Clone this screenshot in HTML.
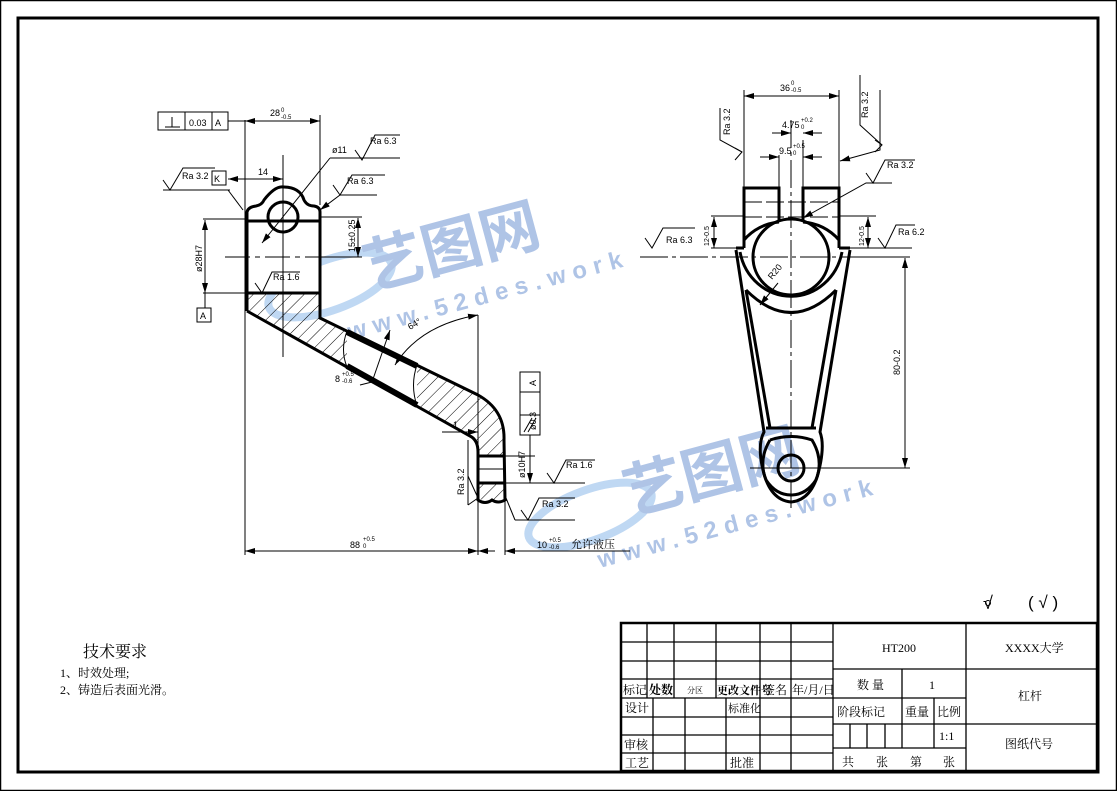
<!DOCTYPE html>
<html><head><meta charset="utf-8"><style>
html,body{margin:0;padding:0;background:#fff}
svg{display:block}
text{font-family:"Liberation Sans","Noto Sans CJK SC",sans-serif;fill:#000}
.s{font-family:"Liberation Serif","Noto Serif CJK SC","Noto Sans CJK SC",serif}
</style></head><body>
<svg width="1117" height="791" viewBox="0 0 1117 791" xmlns="http://www.w3.org/2000/svg">
<defs>
<pattern id="h" patternUnits="userSpaceOnUse" width="9" height="9" patternTransform="rotate(45)">
<line x1="0" y1="0" x2="0" y2="9" stroke="#000" stroke-width="1"/></pattern>
<marker id="a" viewBox="0 0 10 6" refX="10" refY="3" markerWidth="10" markerHeight="6" orient="auto-start-reverse" markerUnits="userSpaceOnUse"><path d="M0,0L10,3L0,6z" fill="#000"/></marker>
</defs>
<rect x="0.5" y="0.5" width="1116" height="790" fill="none" stroke="#000" stroke-width="1.5"/>
<rect x="18" y="18" width="1080" height="754" fill="none" stroke="#000" stroke-width="3"/>

<!-- watermarks -->
<g opacity="0.5">
<ellipse cx="330" cy="285" rx="65" ry="25" transform="rotate(-20 330 285)" fill="none" stroke="#7fb0e6" stroke-width="8"/>
<text x="370" y="290" font-size="60" transform="rotate(-15 370 290)" style="fill:#5f88cc;font-weight:bold">艺图网</text>
<text x="350" y="340" font-size="24" transform="rotate(-15 350 340)" style="fill:#5f88cc;font-weight:bold;letter-spacing:7px">www.52des.work</text>
<ellipse cx="590" cy="515" rx="65" ry="25" transform="rotate(-20 590 515)" fill="none" stroke="#7fb0e6" stroke-width="8"/>
<text x="630" y="515" font-size="60" transform="rotate(-15 630 515)" style="fill:#5f88cc;font-weight:bold">艺图网</text>
<text x="600" y="568" font-size="24" transform="rotate(-15 600 568)" style="fill:#5f88cc;font-weight:bold;letter-spacing:7px">www.52des.work</text>
</g>

<!-- LEFT VIEW -->
<g fill="none" stroke="#000">
<path d="M247,293 L320,293 L320,318 L478,395 Q505,410 504,440 L504,500 Q495,505 490,498 L478,500 L478,452 Q478,440 470,436 L247,311 Z" fill="url(#h)" stroke="none"/>
<path d="M247,221 L320,221 L320,293 L247,293Z M478,456 L505,456 L505,483 L478,483Z" fill="#fff" stroke="none"/>
<path d="M347,331 L417,365 L417,406 L347,367Z" fill="#fff" stroke="none"/>
<path d="M247,311 L247,212 Q248,207 256,206 Q262,205 264,200 Q275,186 283,187 Q300,187 304,200 Q307,206 314,206 Q320,207 320,212 L320,318 L478,395 Q505,410 504,440 L505,500 Q498,504 492,500 Q485,505 478,500 L478,452 Q478,440 470,436 L247,311" stroke-width="3"/>
<line x1="347" y1="332" x2="417" y2="366" stroke-width="6"/>
<line x1="347" y1="366" x2="417" y2="405" stroke-width="6"/>
<path d="M347,331 Q340,350 347,367 M417,365 Q410,385 417,406" stroke-width="1"/>
<circle cx="283" cy="217" r="15" stroke-width="3"/>
<line x1="247" y1="221" x2="320" y2="221" stroke-width="3"/>
<line x1="247" y1="293" x2="320" y2="293" stroke-width="3"/>
<line x1="478" y1="456" x2="505" y2="456" stroke-width="3"/>
<line x1="478" y1="483" x2="505" y2="483" stroke-width="3"/>
<line x1="478" y1="469" x2="505" y2="469" stroke-width="1"/>
<line x1="283" y1="155" x2="283" y2="357" stroke-width="1"/>
<line x1="225" y1="257" x2="355" y2="257" stroke-width="1" stroke-dasharray="25,5,5,5"/>
<line x1="245" y1="120" x2="245" y2="555" stroke-width="1"/>
<line x1="320" y1="115" x2="320" y2="205" stroke-width="1"/>
<line x1="245" y1="121" x2="320" y2="121" stroke-width="1" marker-start="url(#a)" marker-end="url(#a)"/>
<line x1="228" y1="121" x2="245" y2="121" stroke-width="1"/>
<line x1="228" y1="179" x2="283" y2="179" stroke-width="1" marker-start="url(#a)" marker-end="url(#a)"/>
<line x1="203" y1="219" x2="245" y2="219" stroke-width="1"/>
<line x1="203" y1="293" x2="245" y2="293" stroke-width="1"/>
<line x1="205" y1="220" x2="205" y2="293" stroke-width="1" marker-start="url(#a)" marker-end="url(#a)"/>
<line x1="205" y1="293" x2="205" y2="308" stroke-width="1"/>
<line x1="320" y1="217" x2="362" y2="217" stroke-width="1"/>
<line x1="320" y1="257" x2="362" y2="257" stroke-width="1"/>
<line x1="358" y1="218" x2="358" y2="257" stroke-width="1" marker-start="url(#a)" marker-end="url(#a)"/>
<line x1="262" y1="243" x2="330" y2="158" stroke-width="1" marker-start="url(#a)"/>
<line x1="330" y1="158" x2="400" y2="158" stroke-width="1"/>
<line x1="228" y1="190" x2="243" y2="210" stroke-width="1"/>
<line x1="163" y1="190" x2="230" y2="190" stroke-width="1"/>
<line x1="320" y1="210" x2="340" y2="195" stroke-width="1" marker-start="url(#a)"/>
<line x1="340" y1="195" x2="377" y2="195" stroke-width="1"/>
<line x1="478" y1="315" x2="478" y2="555" stroke-width="1"/>
<line x1="505" y1="490" x2="505" y2="555" stroke-width="1"/>
<line x1="245" y1="551" x2="478" y2="551" stroke-width="1" marker-start="url(#a)" marker-end="url(#a)"/>
<line x1="478" y1="551" x2="495" y2="551" stroke-width="1" marker-start="url(#a)"/>
<line x1="505" y1="551" x2="630" y2="551" stroke-width="1" marker-start="url(#a)"/>
<path d="M395,365 Q420,325 478,315" stroke-width="1" marker-start="url(#a)" marker-end="url(#a)"/>
<line x1="372" y1="382" x2="390" y2="330" stroke-width="1" marker-end="url(#a)"/>
<line x1="360" y1="385" x2="372" y2="382" stroke-width="1"/>
<line x1="442" y1="432" x2="478" y2="432" stroke-width="1" marker-end="url(#a)"/>
<line x1="505" y1="456" x2="535" y2="456" stroke-width="1"/>
<line x1="505" y1="483" x2="585" y2="483" stroke-width="1"/>
<line x1="530" y1="435" x2="530" y2="483" stroke-width="1" marker-end="url(#a)"/>
<line x1="506" y1="498" x2="515" y2="520" stroke-width="1"/>
<line x1="515" y1="520" x2="575" y2="520" stroke-width="1"/>
<line x1="468" y1="440" x2="468" y2="505" stroke-width="1"/>
<path d="M163,180 L170,190 L183,168 L215,168" stroke-width="1"/>
<path d="M355,150 L362,160 L375,135 L400,135" stroke-width="1"/>
<path d="M333,185 L340,195 L352,175 L385,175" stroke-width="1"/>
<path d="M255,283 L262,293 L272,272 L300,272" stroke-width="1"/>
<path d="M547,473 L554,483 L566,460 L595,460" stroke-width="1"/>
<path d="M521,510 L528,520 L539,498 L575,498" stroke-width="1"/>
<path d="M468,505 L478,498 L468,476" stroke-width="1"/>
<rect x="158" y="112" width="70" height="18" stroke-width="1"/>
<line x1="185" y1="112" x2="185" y2="130" stroke-width="1"/><line x1="212" y1="112" x2="212" y2="130" stroke-width="1"/>
<path d="M165,127 L180,127 M172,117 L172,127" stroke-width="1"/>
<rect x="212" y="171" width="14" height="14" stroke-width="1"/>
<rect x="197" y="308" width="14" height="14" stroke-width="1"/>
<rect x="520" y="372" width="20" height="63" stroke-width="1"/>
<line x1="520" y1="392" x2="540" y2="392" stroke-width="1"/><line x1="520" y1="415" x2="540" y2="415" stroke-width="1"/>
<path d="M524,432 L532,418 M528,432 L536,418" stroke-width="1"/>
</g>
<g font-size="9">
<text x="189" y="126">0.03</text><text x="215" y="126">A</text>
<text x="270" y="116">28</text><text x="281" y="112" font-size="6">0</text><text x="281" y="119" font-size="6">-0.5</text>
<text x="258" y="175">14</text>
<text x="214" y="182">K</text>
<text x="200" y="319">A</text>
<text x="182" y="179">Ra 3.2</text>
<text x="370" y="144">Ra 6.3</text>
<text x="347" y="184">Ra 6.3</text>
<text x="332" y="153">ø11</text>
<text x="273" y="280">Ra 1.6</text>
<text x="202" y="272" transform="rotate(-90 202 272)">ø28H7</text>
<text x="355" y="252" transform="rotate(-90 355 252)">15±0.25</text>
<text x="410" y="330" transform="rotate(-30 410 330)">64°</text>
<text x="335" y="382">8</text><text x="342" y="376" font-size="6">+0.5</text><text x="342" y="383" font-size="6">-0.6</text>
<text x="453" y="428">1</text>
<text x="536" y="430" transform="rotate(-90 536 430)">ø0.3</text>
<text x="536" y="386" transform="rotate(-90 536 386)">A</text>
<text x="525" y="478" transform="rotate(-90 525 478)">ø10H7</text>
<text x="566" y="468">Ra 1.6</text>
<text x="542" y="507">Ra 3.2</text>
<text x="464" y="495" transform="rotate(-90 464 495)">Ra 3.2</text>
<text x="350" y="548">88</text><text x="363" y="541" font-size="6">+0.5</text><text x="363" y="548" font-size="6">0</text>
<text x="537" y="548">10</text><text x="549" y="542" font-size="6">+0.5</text><text x="549" y="549" font-size="6">-0.6</text>
<text x="571" y="548" class="s" font-size="11">允许液压</text>
</g>

<!-- RIGHT VIEW -->
<g fill="none" stroke="#000">
<path d="M744,248 L744,188 L779,188 L779,222 M803,222 L803,188 L839,188 L839,248" stroke-width="3"/>
<path d="M779,222 A52,52 0 0 0 744,240 M803,222 A52,52 0 0 1 839,240" stroke-width="3"/>
<circle cx="791" cy="257" r="38" stroke-width="3"/>
<path d="M740,252 A52,55 0 0 0 842,252" stroke-width="3"/>
<path d="M746,290 Q791,335 836,290" stroke-width="3"/>
<path d="M736,248 L744,248 M839,248 L850,248" stroke-width="3"/>
<path d="M736,250 L764,432 Q757,445 763,470 Q770,500 791,502 Q812,500 819,470 Q825,445 820,432 L850,250" stroke-width="3"/>
<path d="M746,290 L770,428 M836,290 L812,428" stroke-width="3"/>
<line x1="766" y1="428" x2="816" y2="428" stroke-width="3"/>
<path d="M770,440 Q791,433 812,440 Q824,460 816,480 Q806,495 791,495 Q776,495 766,480 Q758,460 770,440" stroke-width="3"/>
<circle cx="791" cy="468" r="13" stroke-width="3"/>
<line x1="744" y1="202" x2="839" y2="202" stroke-width="1" stroke-dasharray="18,4"/>
<line x1="744" y1="217" x2="839" y2="217" stroke-width="1" stroke-dasharray="18,4"/>
<line x1="791" y1="120" x2="791" y2="510" stroke-width="1" stroke-dasharray="28,4,4,4"/>
<line x1="640" y1="257" x2="865" y2="257" stroke-width="1" stroke-dasharray="28,4,4,4"/>
<line x1="750" y1="468" x2="910" y2="468" stroke-width="1"/>
<line x1="744" y1="90" x2="744" y2="188" stroke-width="1"/>
<line x1="839" y1="90" x2="839" y2="188" stroke-width="1"/>
<line x1="744" y1="96" x2="839" y2="96" stroke-width="1" marker-start="url(#a)" marker-end="url(#a)"/>
<line x1="779" y1="155" x2="779" y2="188" stroke-width="1"/>
<line x1="803" y1="140" x2="803" y2="188" stroke-width="1"/>
<line x1="772" y1="133" x2="791" y2="133" stroke-width="1" marker-end="url(#a)"/>
<line x1="822" y1="133" x2="803" y2="133" stroke-width="1" marker-end="url(#a)"/>
<line x1="760" y1="157" x2="779" y2="157" stroke-width="1" marker-end="url(#a)"/>
<line x1="822" y1="157" x2="803" y2="157" stroke-width="1" marker-end="url(#a)"/>
<line x1="711" y1="216" x2="744" y2="216" stroke-width="1"/>
<line x1="711" y1="248" x2="744" y2="248" stroke-width="1"/>
<line x1="714" y1="217" x2="714" y2="248" stroke-width="1" marker-start="url(#a)" marker-end="url(#a)"/>
<line x1="839" y1="216" x2="876" y2="216" stroke-width="1"/>
<line x1="850" y1="248" x2="912" y2="248" stroke-width="1"/>
<line x1="868" y1="217" x2="868" y2="248" stroke-width="1" marker-start="url(#a)" marker-end="url(#a)"/>
<line x1="855" y1="257" x2="910" y2="257" stroke-width="1"/>
<line x1="905" y1="258" x2="905" y2="468" stroke-width="1" marker-start="url(#a)" marker-end="url(#a)"/>
<line x1="778" y1="283" x2="760" y2="305" stroke-width="1" marker-end="url(#a)"/>
<path d="M840,161 L880,150 L880,90" stroke-width="1" marker-start="url(#a)"/>
<path d="M860,75 L860,125 L882,145" stroke-width="1"/>
<path d="M720,108 L720,140 L742,152" stroke-width="1"/>
<path d="M803,218 L866,183 L892,183" stroke-width="1" marker-start="url(#a)"/>
<path d="M866,173 L873,183 L885,160 L915,160" stroke-width="1"/>
<path d="M645,238 L652,248 L663,228 L695,228" stroke-width="1"/>
<path d="M878,238 L885,248 L896,225 L915,225" stroke-width="1"/>
<path d="M735,148 L742,152 L735,160" stroke-width="1"/>
<path d="M875,140 L882,145 L875,152" stroke-width="1"/>
</g>
<g font-size="9">
<text x="780" y="91">36</text><text x="791" y="85" font-size="6">0</text><text x="791" y="92" font-size="6">-0.5</text>
<text x="782" y="128">4.75</text><text x="801" y="122" font-size="6">+0.2</text><text x="801" y="129" font-size="6">0</text>
<text x="779" y="154">9.5</text><text x="793" y="148" font-size="6">+0.5</text><text x="793" y="155" font-size="6">0</text>
<text x="730" y="135" transform="rotate(-90 730 135)">Ra 3.2</text>
<text x="868" y="118" transform="rotate(-90 868 118)">Ra 3.2</text>
<text x="887" y="168">Ra 3.2</text>
<text x="666" y="243">Ra 6.3</text>
<text x="898" y="235">Ra 6.2</text>
<text x="709" y="246" transform="rotate(-90 709 246)" font-size="7">12-0.5</text>
<text x="864" y="246" transform="rotate(-90 864 246)" font-size="7">12-0.5</text>
<text x="772" y="280" transform="rotate(-50 772 280)">R20</text>
<text x="900" y="375" transform="rotate(-90 900 375)">80-0.2</text>
</g>

<text x="983" y="609" font-size="18">√</text>
<circle cx="988" cy="603" r="2.5" fill="none" stroke="#000"/>
<text x="1028" y="608" font-size="17">( √ )</text>

<text class="s" x="83" y="657" font-size="16">技术要求</text>
<text class="s" x="60" y="677" font-size="12">1、时效处理;</text>
<text class="s" x="60" y="694" font-size="12">2、铸造后表面光滑。</text>

<g fill="none" stroke="#000" stroke-width="1.3">
<rect x="621" y="623" width="476" height="148" stroke-width="2.5"/>
<line x1="621" y1="642" x2="833" y2="642"/><line x1="621" y1="661" x2="833" y2="661"/>
<line x1="621" y1="679" x2="833" y2="679"/><line x1="621" y1="698" x2="833" y2="698"/>
<line x1="621" y1="717" x2="833" y2="717"/><line x1="621" y1="735" x2="833" y2="735"/>
<line x1="621" y1="753" x2="833" y2="753"/>
<line x1="647" y1="623" x2="647" y2="698"/><line x1="674" y1="623" x2="674" y2="698"/>
<line x1="716" y1="623" x2="716" y2="698"/><line x1="760" y1="623" x2="760" y2="771"/>
<line x1="791" y1="623" x2="791" y2="771"/><line x1="833" y1="623" x2="833" y2="771"/>
<line x1="653" y1="698" x2="653" y2="771"/><line x1="685" y1="698" x2="685" y2="771"/>
<line x1="726" y1="698" x2="726" y2="771"/>
<line x1="966" y1="623" x2="966" y2="771"/>
<line x1="833" y1="669" x2="1097" y2="669"/>
<line x1="833" y1="698" x2="966" y2="698"/>
<line x1="833" y1="724" x2="1097" y2="724"/>
<line x1="833" y1="748" x2="966" y2="748"/>
<line x1="902" y1="669" x2="902" y2="748"/><line x1="934" y1="698" x2="934" y2="748"/>
<line x1="850" y1="724" x2="850" y2="748"/><line x1="867" y1="724" x2="867" y2="748"/>
<line x1="885" y1="724" x2="885" y2="748"/>
</g>
<g class="s" font-size="12">
<text class="s" x="623" y="694">标记</text>
<text class="s" x="649" y="694" style="font-weight:bold">处数</text>
<text class="s" x="687" y="693" font-size="8">分区</text>
<text class="s" x="717" y="694" font-size="11" style="font-weight:bold">更改文件号</text>
<text class="s" x="763" y="694">签名</text>
<text class="s" x="792" y="694">年/月/日</text>
<text class="s" x="625" y="712">设计</text>
<text class="s" x="728" y="712" font-size="11">标准化</text>
<text class="s" x="624" y="749">审核</text>
<text class="s" x="625" y="767">工艺</text>
<text class="s" x="730" y="767">批准</text>
<text class="s" x="882" y="652">HT200</text>
<text class="s" x="1005" y="652">XXXX大学</text>
<text class="s" x="857" y="689">数 量</text>
<text class="s" x="929" y="689">1</text>
<text class="s" x="1018" y="700">杠杆</text>
<text class="s" x="837" y="716">阶段标记</text>
<text class="s" x="905" y="716">重量</text>
<text class="s" x="937" y="716">比例</text>
<text class="s" x="939" y="740">1:1</text>
<text class="s" x="1005" y="748">图纸代号</text>
<text class="s" x="842" y="766">共</text><text class="s" x="876" y="766">张</text>
<text class="s" x="910" y="766">第</text><text class="s" x="943" y="766">张</text>
</g>
</svg>
</body></html>
